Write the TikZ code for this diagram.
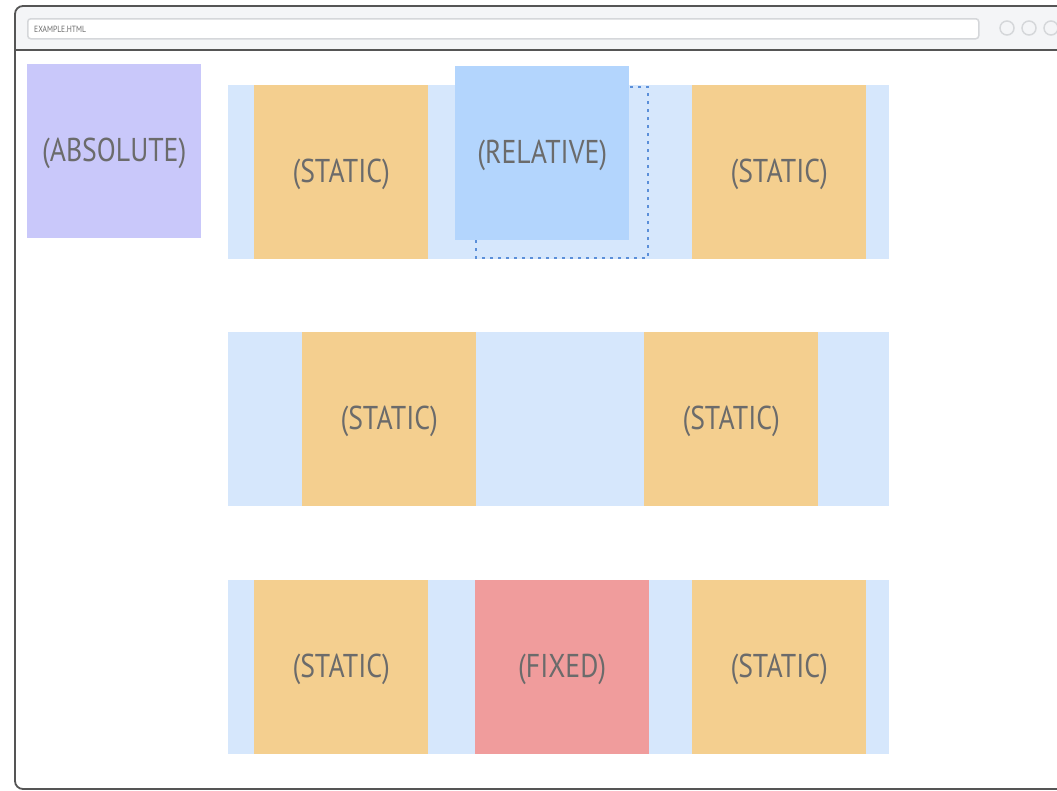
\documentclass[tikz,border=0pt]{standalone}
\usepackage{fontspec}
\newfontfamily\lab[FakeStretch=0.84]{PT Sans}
\definecolor{frame}{HTML}{555555}
\definecolor{barbg}{HTML}{F4F5F7}
\definecolor{barline}{HTML}{D5D7DA}
\definecolor{band}{HTML}{D6E7FC}
\definecolor{stat}{HTML}{F4CF8F}
\definecolor{rel}{HTML}{B3D5FD}
\definecolor{absc}{HTML}{C9C8FA}
\definecolor{fixc}{HTML}{F09C9C}
\definecolor{txt}{HTML}{6B6B6B}
\definecolor{dotc}{HTML}{5B8FD9}
\tikzset{
  box/.style={minimum width=174pt, minimum height=174pt, inner sep=0pt, anchor=north west,
    font=\lab\fontsize{33}{33}\selectfont, text=txt, text depth=0pt, text height=20pt},
  bandbox/.style={fill=band, draw=none, minimum width=661pt, minimum height=174pt, inner sep=0pt, anchor=north west},
  winbtn/.style={circle, draw=barline, line width=1.5pt, minimum size=14pt, inner sep=0pt}
}
\begin{document}
\begin{tikzpicture}[x=1pt,y=-1pt]
\useasboundingbox (0,0) rectangle (1057,790);
\begin{scope}
\clip (0,0) rectangle (1057,790);
% window frame
\fill[white, rounded corners=8pt] (15,6) rectangle (1080,789);
\fill[barbg, rounded corners=8pt] (15,6) rectangle (1080,50);
\fill[barbg] (15,30) rectangle (1080,50);
\draw[frame, line width=1.8pt] (15,50) -- (1080,50);
\draw[frame, line width=1.8pt, rounded corners=8pt] (15,6) rectangle (1080,789);
% address bar
\node[draw=barline, fill=white, line width=1.5pt, rounded corners=3pt, minimum width=951pt, minimum height=20pt, inner sep=0pt, anchor=north west] (addr) at (27,18) {};
\node[anchor=west, font=\lab\fontsize{9}{9}\selectfont, text=txt, inner sep=0pt] (addrtxt) at (34,29) {EXAMPLE.HTML};
\node[winbtn] (b1) at (1007,28) {};
\node[winbtn] (b2) at (1029,28) {};
\node[winbtn] (b3) at (1051,28) {};
\end{scope}
% absolute
\node[box, fill=absc] (abs) at (27,64) {(ABSOLUTE)};
% row 1
\node[bandbox] (band1) at (228,85) {};
\node[box, fill=stat] (s11) at (254,85) {(STATIC)};
\node[box, fill=stat] (s12) at (692,85) {(STATIC)};
\node[box, fill=rel] (relbox) at (455,66) {(RELATIVE)};
\draw[dotc, line width=2.2pt, dash pattern=on 3pt off 5pt] (476,240) -- (476,258) -- (648,258) -- (648,87) -- (630,87);
% row 2
\node[bandbox] (band2) at (228,332) {};
\node[box, fill=stat] (s21) at (302,332) {(STATIC)};
\node[box, fill=stat] (s22) at (644,332) {(STATIC)};
% row 3
\node[bandbox] (band3) at (228,580) {};
\node[box, fill=stat] (s31) at (254,580) {(STATIC)};
\node[box, fill=fixc] (fix) at (475,580) {(FIXED)};
\node[box, fill=stat] (s32) at (692,580) {(STATIC)};
\end{tikzpicture}
\end{document}
